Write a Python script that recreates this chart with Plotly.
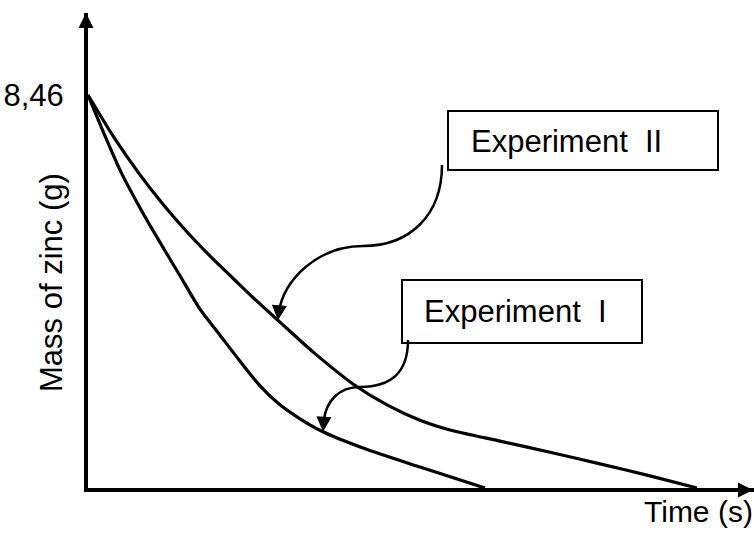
import numpy as np
import plotly.graph_objects as go

# ---- data (arbitrary time units, mass in g) ----
time_exp1 = [0, 1.7, 3.3, 5.0, 6.7, 9.2, 11.2, 13.2, 15.2, 17.2, 19.2, 21.2, 23.5, 27.5, 33.2, 39.7]
mass_exp1 = [8.46, 7.58, 6.80, 6.11, 5.47, 4.57, 3.85, 3.29, 2.73, 2.20, 1.79, 1.49, 1.21, 0.86, 0.45, 0.0]

time_exp2 = [0, 2.5, 5.0, 7.5, 10.0, 12.5, 15.0, 17.0, 19.2, 22.5, 26.5, 29.9, 33.2, 36.2, 41.2, 46.2, 51.2, 56.2, 60.9]
mass_exp2 = [8.46, 7.58, 6.80, 6.11, 5.49, 4.93, 4.41, 4.00, 3.57, 2.93, 2.24, 1.79, 1.46, 1.25, 1.01, 0.77, 0.52, 0.26, 0.0]

y_tick_vals = [8.46]
y_tick_text = ["8,46"]
x_title = "Time (s)"
y_title = "Mass of zinc (g)"
label_exp1 = "Experiment\u00a0\u00a0I"
label_exp2 = "Experiment\u00a0\u00a0II"
arrow_time_exp1 = 23.5
arrow_time_exp2 = 19.0

# ---- layout geometry (pixels) ----
W, H = 754, 534
L, R, T, B = 88, 0, 13, 46
PW, PH = W - L - R, H - T - B
X_MAX = 66.6
Y_MAX = 10.225
FONT = "Liberation Sans, Arial, sans-serif"


def xp(px):
    return (px - L) / PW


def yp(py):
    return (H - B - py) / PH


fig = go.Figure()
for t, m in [(time_exp1, mass_exp1), (time_exp2, mass_exp2)]:
    fig.add_trace(go.Scatter(x=t, y=m, mode="lines",
                             line=dict(color="black", width=3.2, shape="spline", smoothing=0.7),
                             hoverinfo="skip", showlegend=False))

shapes = []
annotations = []

# label boxes
for (x0, y0, x1, y1) in [(448, 111, 718, 170), (402, 280, 642, 343)]:
    shapes.append(dict(type="rect", xref="paper", yref="paper",
                       x0=xp(x0), x1=xp(x1), y0=yp(y1), y1=yp(y0),
                       line=dict(color="black", width=2), fillcolor="white", layer="above"))

annotations.append(dict(text=label_exp2, xref="paper", yref="paper", x=xp(469), y=yp(141),
                        xanchor="left", yanchor="middle", showarrow=False,
                        font=dict(family=FONT, size=31, color="black")))
annotations.append(dict(text=label_exp1, xref="paper", yref="paper", x=xp(422), y=yp(311),
                        xanchor="left", yanchor="middle", showarrow=False,
                        font=dict(family=FONT, size=31, color="black")))


def path(points):
    s = "M {:.5f},{:.5f}".format(xp(points[0][0]), yp(points[0][1]))
    rest = points[1:]
    for i in range(0, len(rest), 3):
        s += " C " + " ".join("{:.5f},{:.5f}".format(xp(a), yp(b)) for a, b in rest[i:i + 3])
    return s


# curved arrow bodies
shapes.append(dict(type="path", xref="paper", yref="paper",
                   path=path([(442, 165), (442, 215), (410, 246), (363, 246),
                              (318, 246), (283, 280), (279, 312)]),
                   line=dict(color="black", width=2.5)))
shapes.append(dict(type="path", xref="paper", yref="paper",
                   path=path([(408, 340), (408, 372), (392, 387), (360, 387),
                              (338, 387), (326, 402), (324, 420)]),
                   line=dict(color="black", width=2.5)))

# arrowheads on curves
tip2 = float(np.interp(arrow_time_exp2, time_exp2, mass_exp2))
tip1 = float(np.interp(arrow_time_exp1, time_exp1, mass_exp1))
annotations.append(dict(x=arrow_time_exp2, y=tip2, xref="x", yref="y", text="",
                        showarrow=True, ax=1.5, ay=-16, arrowhead=2, arrowwidth=2.5,
                        arrowsize=1.2, arrowcolor="black"))
annotations.append(dict(x=arrow_time_exp1, y=tip1, xref="x", yref="y", text="",
                        showarrow=True, ax=1, ay=-16, arrowhead=2, arrowwidth=2.5,
                        arrowsize=1.2, arrowcolor="black"))

# axis arrowheads
annotations.append(dict(x=1, y=0, xref="paper", yref="paper", text="", showarrow=True,
                        ax=-20, ay=0, arrowhead=2, arrowwidth=3, arrowsize=1, arrowcolor="black",
                        yshift=-2))
annotations.append(dict(x=0, y=1, xref="paper", yref="paper", text="", showarrow=True,
                        ax=0, ay=20, arrowhead=2, arrowwidth=3, arrowsize=1, arrowcolor="black",
                        xshift=-2))

# axis titles
annotations.append(dict(text=x_title, xref="paper", yref="paper", x=xp(698), y=yp(511),
                        xanchor="center", yanchor="middle", showarrow=False,
                        font=dict(family=FONT, size=30, color="black")))
annotations.append(dict(text=y_title, xref="paper", yref="paper", x=xp(51), y=yp(283),
                        xanchor="center", yanchor="middle", showarrow=False, textangle=-90,
                        font=dict(family=FONT, size=31, color="black")))

fig.update_layout(
    width=W, height=H,
    margin=dict(l=L, r=R, t=T, b=B, pad=0),
    paper_bgcolor="white", plot_bgcolor="white",
    xaxis=dict(range=[0, X_MAX], showline=True, linewidth=4, linecolor="black",
               showgrid=False, zeroline=False, showticklabels=False, ticks="", fixedrange=True),
    yaxis=dict(range=[0, Y_MAX], showline=True, linewidth=4, linecolor="black",
               showgrid=False, zeroline=False, tickvals=y_tick_vals, ticktext=y_tick_text,
               ticks="", ticklabelstandoff=14,
               tickfont=dict(family=FONT, size=31, color="black"), fixedrange=True),
    shapes=shapes,
    annotations=annotations,
    showlegend=False,
)

fig.write_html("out.html", config={"displayModeBar": False},
               post_script="document.body.style.margin='0';document.body.style.overflow='hidden';")
